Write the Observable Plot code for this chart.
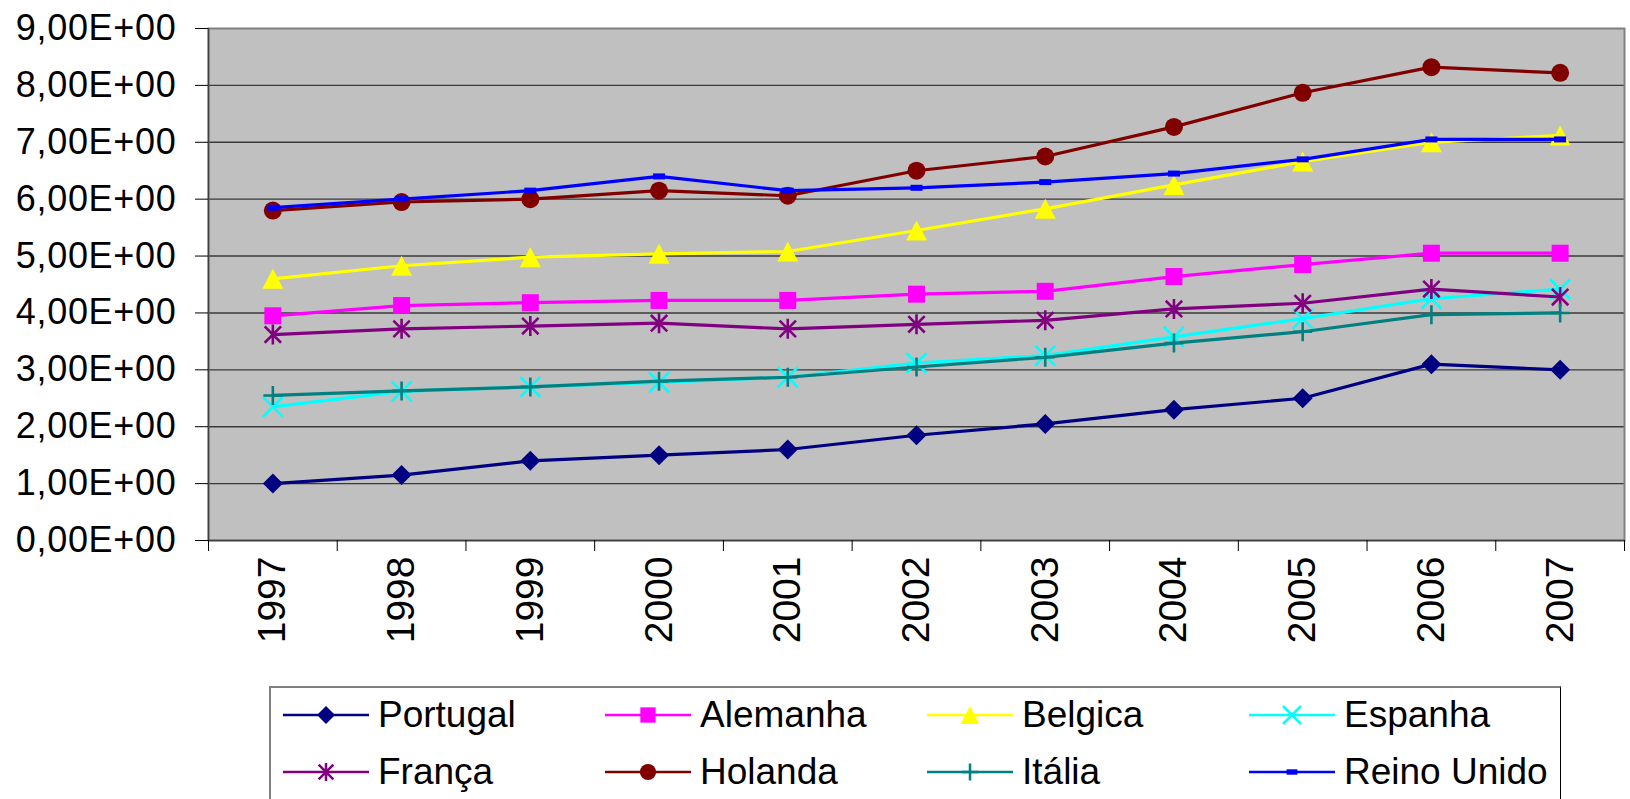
<!DOCTYPE html>
<html>
<head>
<meta charset="utf-8">
<script src="https://cdn.jsdelivr.net/npm/d3@7"></script>
<script src="https://cdn.jsdelivr.net/npm/@observablehq/plot@0.6"></script>
<style>
  html, body { margin: 0; padding: 0; background: #fff; overflow: hidden; }
  body { font-family: "Liberation Sans", Arial, sans-serif; }
  #chart svg { display: block; }
  g[aria-label="y-axis tick label"] text { letter-spacing: 0.7px; }
  #legend { position: relative; margin-left: 269px; width: 1292px; height: 140px; box-sizing: border-box;
            border: 2px solid #808080; border-right: 1.5px solid #000; border-bottom: none; }
  .item { position: absolute; display: flex; align-items: center; height: 40px; font-size: 37px; color: #000; white-space: nowrap; }
  .item svg { display: block; overflow: visible; }
</style>
</head>
<body>
<div id="chart"></div>
<div id="legend"></div>
<script>
// ---- data ----
const years = [1997, 1998, 1999, 2000, 2001, 2002, 2003, 2004, 2005, 2006, 2007];
const countries = ["Portugal", "Alemanha", "Belgica", "Espanha", "França", "Holanda", "Itália", "Reino Unido"];
const portugal   = [1.00, 1.15, 1.40, 1.50, 1.60, 1.85, 2.05, 2.30, 2.50, 3.10, 3.00];
const alemanha   = [3.95, 4.13, 4.18, 4.22, 4.22, 4.33, 4.38, 4.64, 4.85, 5.05, 5.05];
const belgica    = [4.60, 4.83, 4.98, 5.04, 5.08, 5.45, 5.83, 6.25, 6.66, 7.00, 7.12];
const espanha    = [2.35, 2.62, 2.70, 2.78, 2.87, 3.12, 3.25, 3.58, 3.90, 4.25, 4.42];
const franca     = [3.62, 3.72, 3.77, 3.82, 3.72, 3.80, 3.87, 4.07, 4.17, 4.42, 4.28];
const holanda    = [5.80, 5.95, 6.00, 6.15, 6.06, 6.50, 6.75, 7.27, 7.87, 8.32, 8.22];
const italia     = [2.55, 2.63, 2.70, 2.80, 2.87, 3.05, 3.22, 3.47, 3.67, 3.97, 4.00];
const reinoUnido = [5.85, 6.00, 6.15, 6.40, 6.15, 6.20, 6.30, 6.45, 6.70, 7.05, 7.05];
const yTicks = [0, 1, 2, 3, 4, 5, 6, 7, 8, 9];

// ---- styles ----
const seriesValues = [portugal, alemanha, belgica, espanha, franca, holanda, italia, reinoUnido];
const colors = ["#000080", "#FF00FF", "#FFFF00", "#00FFFF", "#800080", "#800000", "#008080", "#0000FF"];
const mk = f => ({draw(c, size) { const h = Math.sqrt(size / Math.PI); f(c, h); }});
const symDiamond  = mk((c, h) => { c.moveTo(0, -h); c.lineTo(h, 0); c.lineTo(0, h); c.lineTo(-h, 0); c.closePath(); });
const symSquare   = mk((c, h) => { c.rect(-h, -h, 2 * h, 2 * h); });
const symTriangle = mk((c, h) => { c.moveTo(0, -h); c.lineTo(h * 1.05, h); c.lineTo(-h * 1.05, h); c.closePath(); });
const symTimes    = mk((c, h) => { c.moveTo(-h, -h); c.lineTo(h, h); c.moveTo(-h, h); c.lineTo(h, -h); });
const symStar     = mk((c, h) => { const d = h * 0.82; c.moveTo(-d, -d); c.lineTo(d, d); c.moveTo(-d, d); c.lineTo(d, -d); c.moveTo(0, -h); c.lineTo(0, h); });
const symCircle   = mk((c, h) => { c.moveTo(h, 0); c.arc(0, 0, h, 0, 2 * Math.PI); });
const symPlus     = mk((c, h) => { c.moveTo(0, -h); c.lineTo(0, h); c.moveTo(-h, 0); c.lineTo(h, 0); });
const symDash     = mk((c, h) => { c.rect(-h, -h / 2, 2 * h, h); });
const symbols = [symDiamond, symSquare, symTriangle, symTimes, symStar, symCircle, symPlus, symDash];
const filled  = [true, true, true, false, false, true, false, true];
const radii   = [10, 8.5, 10, 10, 10, 9, 9.5, 6];

const rows = countries.flatMap((c, i) => years.map((y, j) => ({year: y, value: seriesValues[i][j], country: c})));
const bounds = years.map(y => y - 0.5).concat([years[years.length - 1] + 0.5]);
const fmtY = d => d.toFixed(2).replace(".", ",") + "E+00";

const seriesMarks = countries.flatMap((c, i) => {
  const data = rows.filter(d => d.country === c);
  return [
    Plot.line(data, {x: "year", y: "value", stroke: colors[i], strokeWidth: 3.2}),
    Plot.dot(data, {x: "year", y: "value", symbol: symbols[i], r: radii[i],
      fill: filled[i] ? colors[i] : "none", stroke: filled[i] ? "none" : colors[i], strokeWidth: 2.6})
  ];
});

const chart = Plot.plot({
  width: 1630,
  height: 686,
  marginLeft: 208,
  marginRight: 6,
  marginTop: 28,
  marginBottom: 146,
  style: {fontFamily: "'Liberation Sans', Arial, sans-serif", color: "#000", background: "#fff"},
  x: {domain: [bounds[0], bounds[bounds.length - 1]], axis: null},
  y: {domain: [0, 9], axis: null},
  marks: [
    Plot.frame({fill: "#c0c0c0"}),
    Plot.ruleY(yTicks.filter(d => d > 0 && d < 9), {stroke: "#3a3a3a", strokeWidth: 1.4}),
    Plot.frame({stroke: "#808080", strokeWidth: 2}),
    Plot.ruleX([bounds[0]], {stroke: "#404040", strokeWidth: 1.5}),
    Plot.ruleY([0], {stroke: "#404040", strokeWidth: 1.5}),
    Plot.axisY({ticks: yTicks, tickSize: 13, tickPadding: 19, tickFormat: fmtY, fontSize: 36, stroke: "#000", label: null}),
    Plot.axisX({ticks: bounds, tickSize: 11, tickFormat: () => "", stroke: "#000", label: null}),
    Plot.axisX({ticks: years, tickSize: 0, tickPadding: 16, tickRotate: -90, tickFormat: d => String(d), fontSize: 39, label: null}),
    ...seriesMarks
  ]
});
document.getElementById("chart").appendChild(chart);

// ---- legend ----
const legend = d3.select("#legend");
countries.forEach((c, i) => {
  const col = i % 4, row = Math.floor(i / 4);
  const item = legend.append("div").attr("class", "item")
    .style("left", (12 + col * 322) + "px")
    .style("top", (7 + row * 57) + "px");
  const sw = item.append("svg").attr("width", 86).attr("height", 40);
  sw.append("line").attr("x1", 0).attr("x2", 86).attr("y1", 20).attr("y2", 20)
    .attr("stroke", colors[i]).attr("stroke-width", 2.5);
  const r = radii[i] * 0.9;
  sw.append("path").attr("transform", "translate(43,20)")
    .attr("d", d3.symbol(symbols[i], Math.PI * r * r)())
    .attr("fill", filled[i] ? colors[i] : "none")
    .attr("stroke", filled[i] ? "none" : colors[i])
    .attr("stroke-width", 2.5);
  item.append("span").style("margin-left", "9px").text(c);
});
</script>
</body>
</html>
